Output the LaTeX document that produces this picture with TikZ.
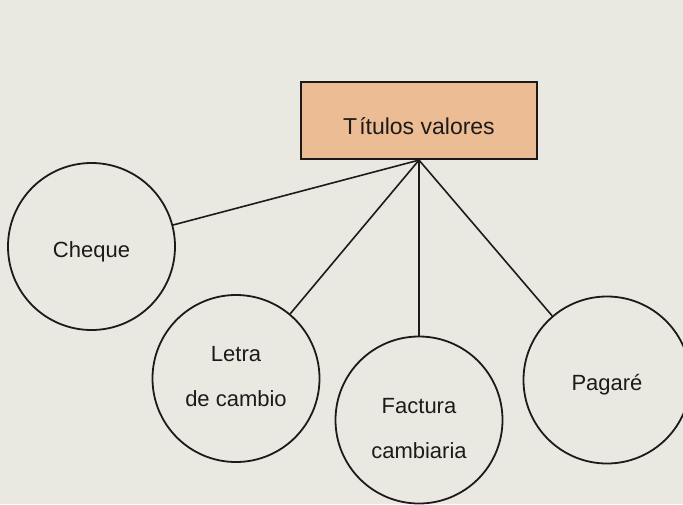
\documentclass[tikz,border=0pt]{standalone}
\usepackage{fontspec}
\setmainfont{Liberation Sans}
\definecolor{paper}{RGB}{233,233,226}
\definecolor{peach}{RGB}{236,189,148}
\definecolor{ink}{RGB}{30,26,26}
\newcommand\mvtext[2]{\raisebox{#1}[\height][\depth]{#2}}
\newcommand\twolines[2]{\begin{tabular}{@{}c@{}}#1\\#2\end{tabular}}
\begin{document}
\begin{tikzpicture}[x=1pt,y=-1pt,
  circ/.style={circle, draw=ink, line width=1.8pt, minimum size=167pt, inner sep=0pt,
    align=center, text=ink, font=\fontsize{22}{45}\selectfont},
  conn/.style={draw=ink, line width=1.6pt},
  topbox/.style={rectangle, draw=ink, line width=2.2pt, fill=peach, minimum width=236pt,
    minimum height=77pt, inner sep=0pt, text=ink, font=\fontsize{23}{28}\selectfont}]
\fill[paper] (0,0) rectangle (683,504);
\useasboundingbox (0,0) rectangle (683,504);
\node[topbox] (titulos) at (419,120.5) {\raisebox{-14pt}[0pt][0pt]{T\kern2pt ítulos valores}};
\node[circ] (cheque) at (91.5,246.5) {\mvtext{-5pt}{Cheque}};
\node[circ] (letra) at (236,378.5) {\mvtext{3.5pt}{\twolines{Letra}{de cambio}}};
\node[circ] (factura) at (419,420) {\mvtext{-6.5pt}{\twolines{Factura}{cambiaria}}};
\node[circ] (pagare) at (607,380) {\mvtext{-5pt}{Pagaré}};
\coordinate (hub) at (titulos.south);
\draw[conn] (hub) -- (cheque);
\draw[conn] (hub) -- (letra);
\draw[conn] (hub) -- (factura);
\draw[conn] (hub) -- (pagare);
\end{tikzpicture}
\end{document}
